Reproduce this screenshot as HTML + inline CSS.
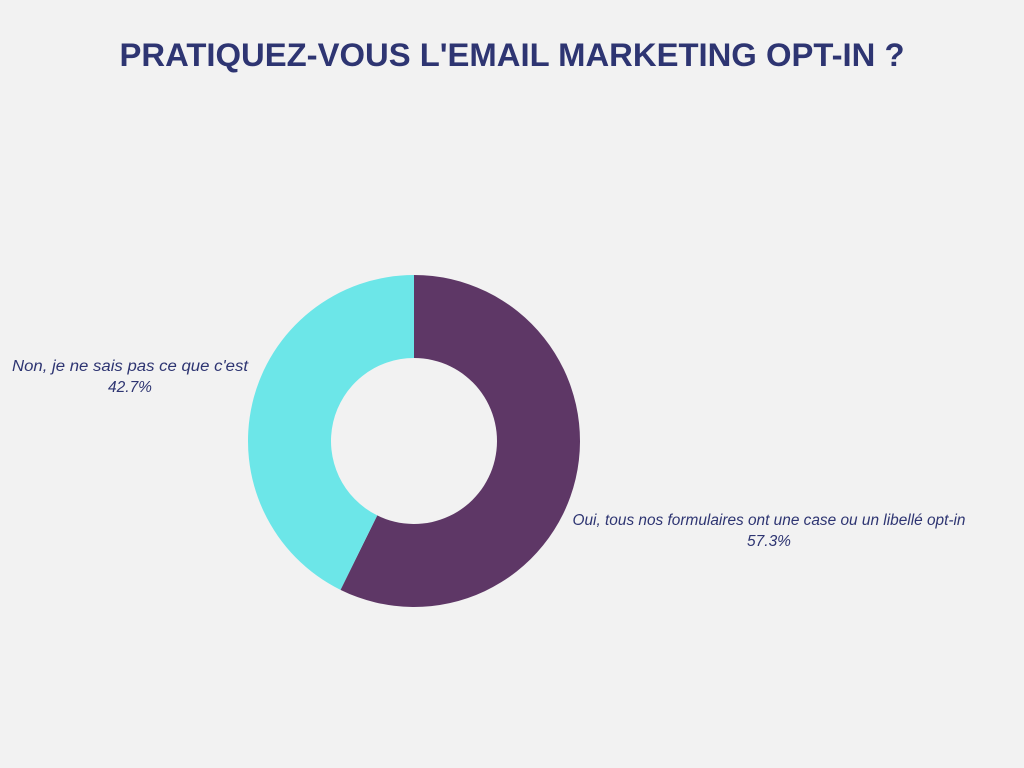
<!DOCTYPE html>
<html><head><meta charset="utf-8"><style>
html,body{margin:0;padding:0;background:#f2f2f2;}
svg{display:block;}
</style></head><body>
<svg width="1024" height="768" xmlns="http://www.w3.org/2000/svg">
<rect width="1024" height="768" fill="#f2f2f2"/>
<text x="512" y="66" text-anchor="middle" font-family="Liberation Sans, sans-serif" font-weight="bold" font-size="32.5" textLength="785" lengthAdjust="spacingAndGlyphs" fill="#2e3572">PRATIQUEZ-VOUS L'EMAIL MARKETING OPT-IN ?</text>
<g id="slices"></g>
<g id="labels"></g>
</svg>
<script>
const categories = ["Oui, tous nos formulaires ont une case ou un libellé opt-in", "Non, je ne sais pas ce que c'est"];
const values = [57.3, 42.7];
const colors = ["#5e3766", "#6ce6e8"];
const labelPos = [[769, 525], [130, 371]];
const labelWidths = [393, 236];
const cx = 414, cy = 441, R = 166, r = 83;
const ns = "http://www.w3.org/2000/svg";
const total = values.reduce((a, b) => a + b, 0);
let start = 0;
const sg = document.getElementById('slices'), lg = document.getElementById('labels');
function pt(a, rad){return [cx + rad*Math.sin(a), cy - rad*Math.cos(a)];}
values.forEach((v, i) => {
  const a0 = start/total*2*Math.PI, a1 = (start+v)/total*2*Math.PI;
  start += v;
  const large = (a1 - a0) > Math.PI ? 1 : 0;
  const p0 = pt(a0, R), p1 = pt(a1, R), q1 = pt(a1, r), q0 = pt(a0, r);
  const path = document.createElementNS(ns, 'path');
  path.setAttribute('d', `M${p0[0]},${p0[1]} A${R},${R} 0 ${large} 1 ${p1[0]},${p1[1]} L${q1[0]},${q1[1]} A${r},${r} 0 ${large} 0 ${q0[0]},${q0[1]} Z`);
  path.setAttribute('fill', colors[i]);
  
  
  sg.appendChild(path);
  const t = document.createElementNS(ns, 'text');
  t.setAttribute('text-anchor', 'middle');
  t.setAttribute('font-family', 'Liberation Sans, sans-serif');
  t.setAttribute('font-style', 'italic'); t.setAttribute('font-size', '15.5');
  t.setAttribute('fill', '#2e3572');
  
  
  const s1 = document.createElementNS(ns, 'tspan');
  s1.setAttribute('x', labelPos[i][0]); s1.setAttribute('y', labelPos[i][1]);
  s1.setAttribute('textLength', labelWidths[i]);
  s1.setAttribute('lengthAdjust', 'spacingAndGlyphs');
  s1.textContent = categories[i];
  const s2 = document.createElementNS(ns, 'tspan');
  s2.setAttribute('x', labelPos[i][0]); s2.setAttribute('y', labelPos[i][1] + 21);
  s2.textContent = v.toFixed(1) + '%';
  t.appendChild(s1); t.appendChild(s2);
  lg.appendChild(t);
});
</script>
</body></html>
